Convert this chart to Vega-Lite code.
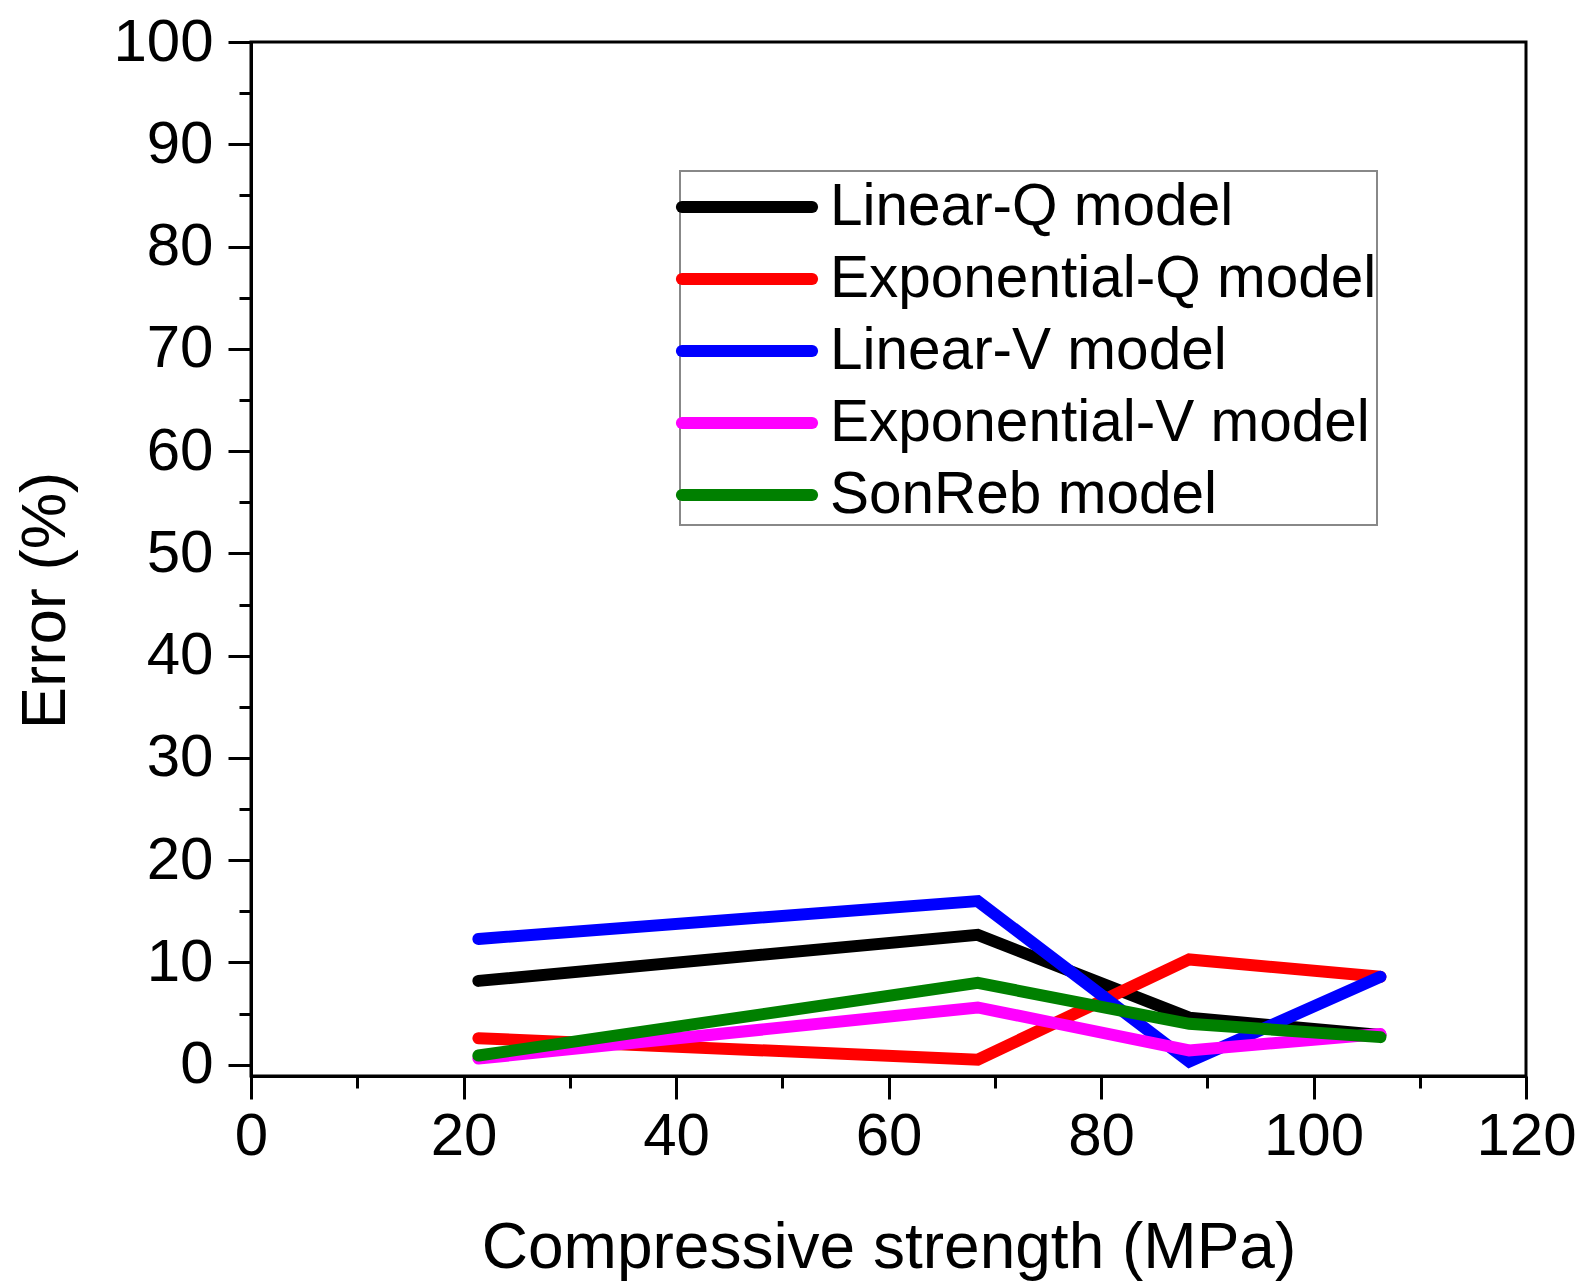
{
  "$schema": "https://vega.github.io/schema/vega-lite/v6.json",
  "width": 1275,
  "height": 1034,
  "autosize": {"type": "none"},
  "padding": {"left": 251, "top": 42, "right": 59, "bottom": 205},
  "background": "white",
  "data": {
    "values": [
      {"model": "Linear-Q model", "strength": 21.4, "error": 8.2},
      {"model": "Linear-Q model", "strength": 68.4, "error": 12.7},
      {"model": "Linear-Q model", "strength": 88.3, "error": 4.6},
      {"model": "Linear-Q model", "strength": 106.3, "error": 2.9},
      {"model": "Exponential-Q model", "strength": 21.4, "error": 2.6},
      {"model": "Exponential-Q model", "strength": 68.4, "error": 0.5},
      {"model": "Exponential-Q model", "strength": 88.3, "error": 10.3},
      {"model": "Exponential-Q model", "strength": 106.3, "error": 8.6},
      {"model": "Linear-V model", "strength": 21.4, "error": 12.3},
      {"model": "Linear-V model", "strength": 68.4, "error": 16.0},
      {"model": "Linear-V model", "strength": 88.3, "error": 0.3},
      {"model": "Linear-V model", "strength": 106.3, "error": 8.6},
      {"model": "Exponential-V model", "strength": 21.4, "error": 0.6},
      {"model": "Exponential-V model", "strength": 68.4, "error": 5.6},
      {"model": "Exponential-V model", "strength": 88.3, "error": 1.4},
      {"model": "Exponential-V model", "strength": 106.3, "error": 3.0},
      {"model": "SonReb model", "strength": 21.4, "error": 0.9},
      {"model": "SonReb model", "strength": 68.4, "error": 8.0},
      {"model": "SonReb model", "strength": 88.3, "error": 4.0},
      {"model": "SonReb model", "strength": 106.3, "error": 2.7}
    ]
  },
  "layer": [
    {
      "mark": {"type": "point", "opacity": 0},
      "encoding": {
        "x": {
          "field": "strength", "type": "quantitative",
          "scale": {"domain": [0, 120], "nice": false, "zero": false},
          "axis": {"orient": "bottom", "values": [10, 30, 50, 70, 90, 110], "tickSize": 12, "tickWidth": 3, "tickColor": "black", "labels": false, "domain": false, "grid": false, "title": null}
        },
        "y": {
          "field": "error", "type": "quantitative",
          "scale": {"domain": [-1.1, 100], "nice": false, "zero": false},
          "axis": {"orient": "left", "values": [5, 15, 25, 35, 45, 55, 65, 75, 85, 95], "tickSize": 12, "tickWidth": 3, "tickColor": "black", "labels": false, "domain": false, "grid": false, "title": null}
        }
      }
    },
    {
      "mark": {"type": "line", "strokeWidth": 12, "strokeCap": "round", "strokeJoin": "miter"},
      "encoding": {
        "x": {
          "field": "strength", "type": "quantitative",
          "scale": {"domain": [0, 120], "nice": false, "zero": false},
          "axis": {
            "orient": "bottom", "values": [0, 20, 40, 60, 80, 100, 120], "tickSize": 23, "tickWidth": 3, "tickColor": "black",
            "domainColor": "black", "domainWidth": 3, "grid": false,
            "labelFont": "Liberation Sans", "labelFontSize": 60, "labelColor": "black", "labelPadding": 8, "labelFlush": false,
            "title": "Compressive strength (MPa)", "titleFont": "Liberation Sans", "titleFontSize": 64, "titleFontWeight": "normal", "titleColor": "black",
            "titleBaseline": "alphabetic", "titleY": 191, "titleX": 637.5, "titleAlign": "center"
          }
        },
        "y": {
          "field": "error", "type": "quantitative",
          "scale": {"domain": [-1.1, 100], "nice": false, "zero": false},
          "axis": {
            "orient": "left", "values": [0, 10, 20, 30, 40, 50, 60, 70, 80, 90, 100], "tickSize": 23, "tickWidth": 3, "tickColor": "black",
            "domainColor": "black", "domainWidth": 3, "grid": false,
            "labelFont": "Liberation Sans", "labelFontSize": 60, "labelColor": "black", "labelPadding": 15, "labelFlush": false,
            "title": "Error (%)", "titleFont": "Liberation Sans", "titleFontSize": 63.5, "titleFontWeight": "normal", "titleColor": "black",
            "titleAngle": -90, "titleBaseline": "alphabetic", "titleAlign": "center", "titleX": -187, "titleY": 558
          }
        },
        "color": {
          "field": "model", "type": "nominal",
          "scale": {
            "domain": ["Linear-Q model", "Exponential-Q model", "Linear-V model", "Exponential-V model", "SonReb model"],
            "range": ["#000000", "#ff0000", "#0000ff", "#ff00ff", "#008000"]
          },
          "legend": {
            "orient": "none", "legendX": 429, "legendY": 129, "title": null,
            "symbolType": "M-2.17,0H2.17", "symbolSize": 3600, "symbolStrokeWidth": 12, "symbolOffset": 31,
            "labelOffset": 47, "labelFont": "Liberation Sans", "labelFontSize": 58.5, "labelColor": "black", "labelLimit": 0,
            "rowPadding": 6, "padding": 0, "strokeColor": "#888888", "fillColor": "white",
            "encode": {
              "symbols": {"update": {"strokeCap": {"value": "round"}}},
              "legend": {"update": {"strokeWidth": {"value": 2}}}
            }
          }
        }
      }
    }
  ],
  "resolve": {"axis": {"x": "independent", "y": "independent"}},
  "config": {
    "view": {"stroke": "black", "strokeWidth": 3},
    "axis": {"labelFont": "Liberation Sans"}
  }
}
